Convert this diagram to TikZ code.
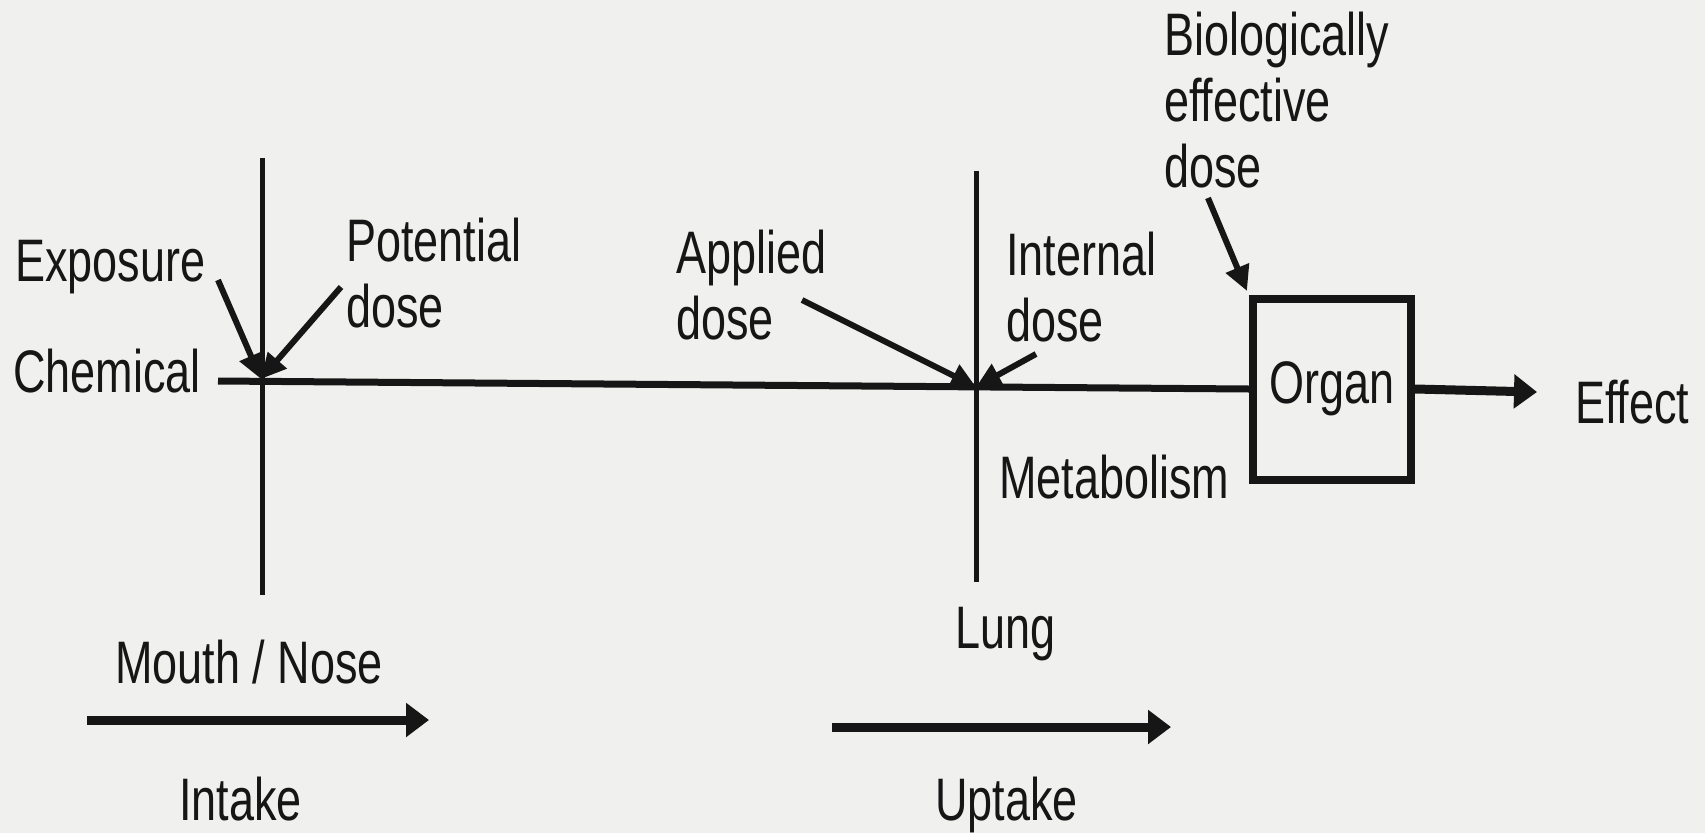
\documentclass[tikz,border=0pt]{standalone}
\usepackage{fontspec}
\setmainfont{Liberation Sans}[FakeStretch=0.75]
\usetikzlibrary{arrows.meta}
\definecolor{bg}{RGB}{240,240,239}
\definecolor{ink}{RGB}{22,22,22}
\begin{document}
\begin{tikzpicture}[x=1pt,y=-1pt,
  lbl/.style={anchor=base west,inner sep=0pt,outer sep=0pt,align=left,text=ink,font=\fontsize{60}{66}\selectfont},
  axis/.style={draw=ink,line width=5pt},
  mainline/.style={draw=ink,line width=7pt},
  ptr/.style={draw=ink,line width=6pt,-{Triangle[length=25pt,width=24pt]}},
  bigarrow/.style={draw=ink,line width=9pt,-{Triangle[length=23pt,width=33pt]}},
  organbox/.style={draw=ink,line width=8pt,minimum width=158pt,minimum height=181pt,inner sep=0pt,text=ink,font=\fontsize{60}{66}\selectfont}]
\fill[bg] (0,0) rectangle (1705,833);
\useasboundingbox (0,0) rectangle (1705,833);

% labels (multi-line labels are anchored at the baseline of their last line)
\node[lbl] (chem) at (13,392) {Chemical};
\node[lbl] (expo) at (15,281) {Exposure};
\node[lbl] (pot) at (346,327) {Potential\\dose};
\node[lbl] (app) at (676,339) {Applied\\dose};
\node[lbl] (int) at (1006,341) {Internal\\dose};
\node[lbl] (met) at (999,498) {Metabolism};
\node[lbl] (bio) at (1164,187) {Biologically\\effective\\dose};
\node[lbl] (eff) at (1575,423) {Effect};
\node[lbl] (lung) at (955,648) {Lung};
\node[lbl] (mouth) at (115,683) {Mouth / Nose};
\node[lbl] (intake) at (179,820) {Intake};
\node[lbl] (uptake) at (935,820) {Uptake};

% organ
\node[organbox] (organ) at (1332,389) {Organ};

% coordinates
\coordinate (cstart) at (218,381);
\coordinate (v1t) at (262,158);
\coordinate (v1b) at (262,595);
\coordinate (v2t) at (976,171);
\coordinate (v2b) at (976,582);
\coordinate (x1) at (261,379);
\coordinate (x2) at (976,387);
\coordinate (expoA) at (218,280);
\coordinate (potA) at (341,287);
\coordinate (appA) at (802,300);
\coordinate (intA) at (1036,354);
\coordinate (bioA) at (1208,198);
\coordinate (bioT) at (1247,291);
\coordinate (effT) at (1537,392);
\coordinate (inS) at (87,720);
\coordinate (inE) at (429,720);
\coordinate (upS) at (832,727);
\coordinate (upE) at (1171,727);

% axes
\draw[axis] (v1t) -- (v1b);
\draw[axis] (v2t) -- (v2b);
\draw[mainline] (cstart) -- (organ.west);

% pointers
\draw[ptr] (expoA) -- (x1);
\draw[ptr] (potA) -- (x1);
\draw[ptr] (appA) -- (x2);
\draw[ptr] (intA) -- (x2);
\draw[ptr] (bioA) -- (bioT);

% flow arrows
\draw[bigarrow] (organ.east) -- (effT);
\draw[bigarrow] (inS) -- (inE);
\draw[bigarrow] (upS) -- (upE);
\end{tikzpicture}
\end{document}
